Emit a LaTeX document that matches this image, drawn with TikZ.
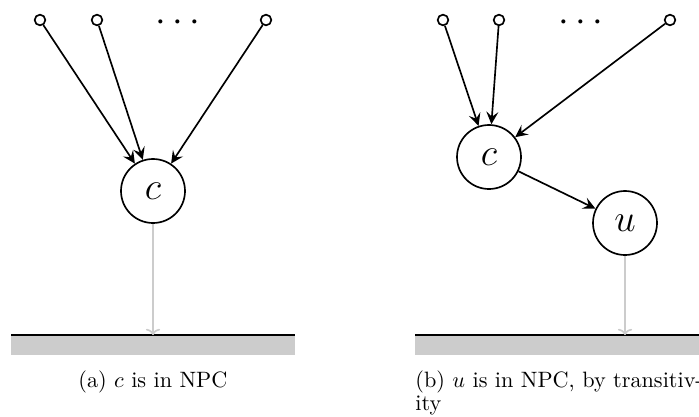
\documentclass[tikz,border=0pt]{standalone}
\usetikzlibrary{arrows.meta}
\begin{document}
\begin{tikzpicture}[x=0.45pt,y=-0.45pt,
  big/.style={circle, draw, line width=0.75pt, minimum size=28.8pt, inner sep=0pt, font=\LARGE},
  leaf/.style={circle, draw, line width=0.75pt, minimum size=4.8pt, inner sep=0pt, fill=white},
  edge/.style={line width=0.75pt, -{Stealth[length=5.6pt, width=5.4pt, inset=2.2pt]}},
  grayedge/.style={line width=0.75pt, draw=black!20, -{To[length=2.8pt, width=6.4pt]}},
  bar/.style={rectangle, fill=black!20, draw=none, inner sep=0pt, minimum height=9pt, anchor=north west},
  dotsnode/.style={inner sep=0pt, font=\LARGE},
  captext/.style={inner sep=0pt, anchor=base west}]
\useasboundingbox (0,0) rectangle (699,416);
% ---- left panel ----
\node[leaf] (a1) at (40,20) {};
\node[leaf] (a2) at (97,20) {};
\node[leaf] (a3) at (266,20) {};
\node[dotsnode] (ad) at (178,23) {$\cdots$};
\node[big] (c1) at (153,191) {$c$};
\draw[edge] (a1) -- (c1);
\draw[edge] (a2) -- (c1);
\draw[edge] (a3) -- (c1);
\node[bar, minimum width=127.4pt] (barA) at (11,335) {};
\draw[line width=0.8pt] (barA.north west) -- (barA.north east);
\draw[grayedge] (c1) -- (c1 |- barA.north);
\node[captext] (capA) at (78,387) {(a) $c$ is in NPC};
% ---- right panel ----
\node[leaf] (b1) at (443,20) {};
\node[leaf] (b2) at (499,20) {};
\node[leaf] (b3) at (670,20) {};
\node[dotsnode] (bd) at (581,23) {$\cdots$};
\node[big] (c2) at (489,157) {$c$};
\node[big] (u) at (625,223) {$u$};
\draw[edge] (b1) -- (c2);
\draw[edge] (b2) -- (c2);
\draw[edge] (b3) -- (c2);
\draw[edge] (c2) -- (u);
\node[bar, minimum width=127.8pt] (barB) at (415,335) {};
\draw[line width=0.8pt] (barB.north west) -- (barB.north east);
\draw[grayedge] (u) -- (u |- barB.north);
\node[captext] (capB1) at (415,387) {(b) $u$ is in NPC, by transitiv-};
\node[captext] (capB2) at (415,410) {ity};
\end{tikzpicture}
\end{document}
